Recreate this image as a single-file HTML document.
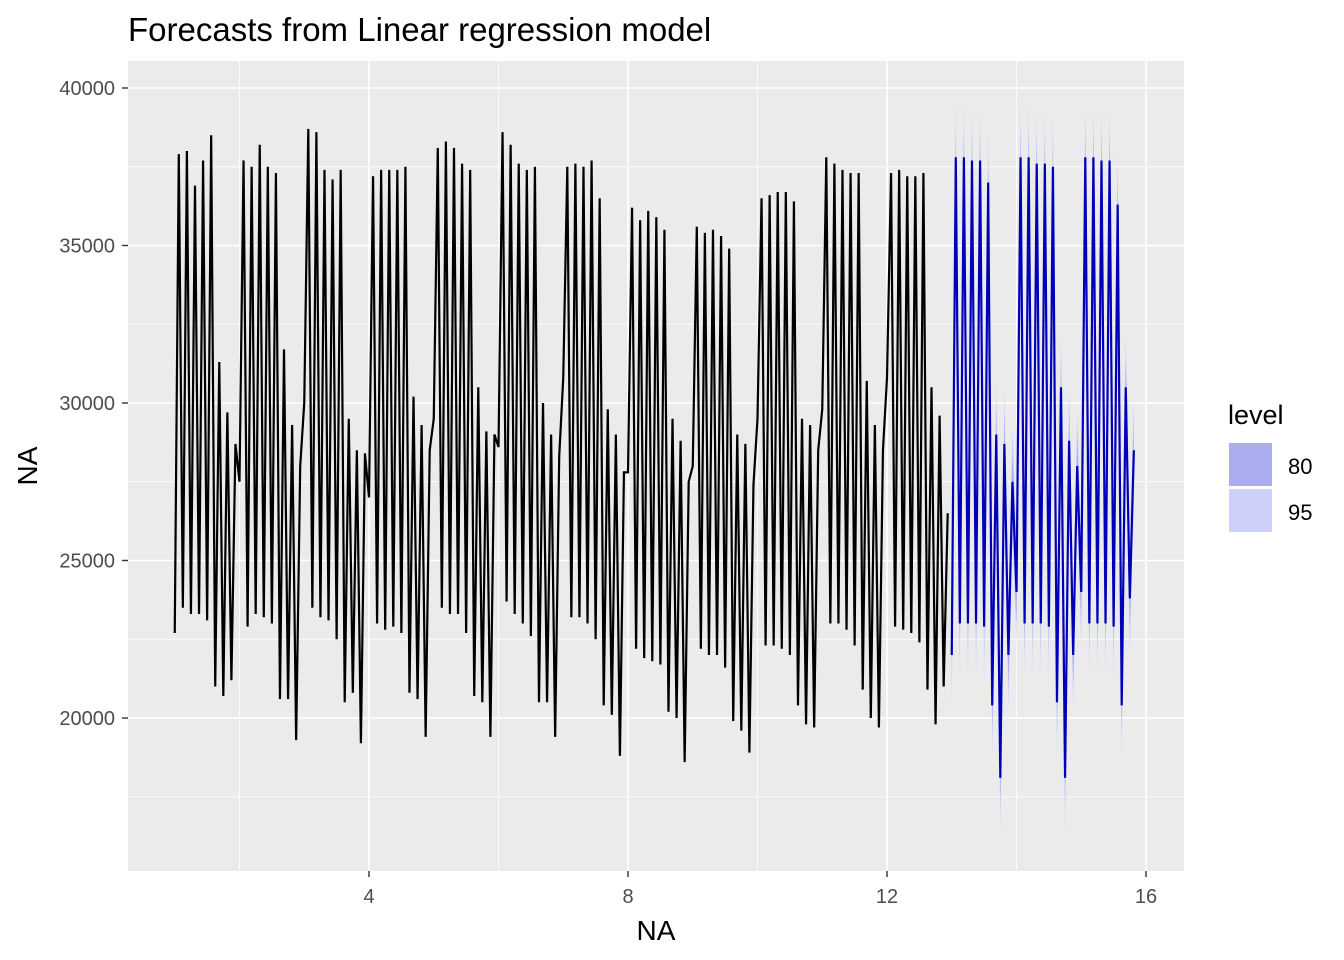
<!DOCTYPE html>
<html><head><meta charset="utf-8"><style>
body{margin:0;background:#fff;}
svg{display:block;font-family:"Liberation Sans",Arial,sans-serif;}
</style></head><body>
<svg id="chart" width="1344" height="960">
<rect x="0" y="0" width="1344" height="960" fill="#fff"/>
<text x="128" y="41" font-size="33" fill="#000">Forecasts from Linear regression model</text>
<rect x="128" y="61" width="1056" height="810" fill="#ebebeb"/>
<g id="grid"></g>
<g id="bands"></g>
<g id="lines"></g>
<g id="axes"></g>
<text x="656" y="940" font-size="28" text-anchor="middle">NA</text>
<text transform="translate(37,466) rotate(-90)" font-size="28" text-anchor="middle">NA</text>
<g>
<text x="1228" y="424" font-size="27">level</text>
<rect x="1229" y="443" width="43" height="43" fill="#aaaeee"/>
<rect x="1229" y="489" width="43" height="43" fill="#ccd0fb"/>
<text x="1288" y="474" font-size="22">80</text>
<text x="1288" y="520" font-size="22">95</text>
</g>
</svg>
<script>
const xTicks=[4,8,12,16];
const xMinor=[2,6,10,14];
const yTicks=[20000,25000,30000,35000,40000];
const yMinor=[17500,22500,27500,32500,37500];
const histStart=1, step=0.0625;
const history=[
22700,37900,23500,38000,23300,36900,23300,37700,23100,38500,21000,31300,20700,29700,21200,28700,
27500,37700,22900,37500,23300,38200,23200,37500,23000,37300,20600,31700,20600,29300,19300,28000,
30000,38700,23500,38600,23200,37400,23100,37100,22500,37400,20500,29500,20800,28500,19200,28400,
27000,37200,23000,37400,22800,37400,22900,37400,22700,37500,20800,30200,20600,29300,19400,28500,
29500,38100,23500,38300,23300,38100,23300,37600,22700,37400,20700,30500,20500,29100,19400,29000,
28600,38600,23700,38200,23300,37600,23000,37400,22600,37500,20500,30000,20500,29000,19400,28300,
30800,37500,23200,37600,23200,37500,23000,37700,22500,36500,20400,29800,20100,29000,18800,27800,
27800,36200,22200,35800,21900,36100,21800,35900,21700,35500,20200,29500,20000,28800,18600,27500,
28000,35600,22200,35400,22000,35500,22000,35300,21600,34900,19900,29000,19600,28700,18900,27400,
29500,36500,22300,36600,22300,36700,22200,36700,22000,36400,20400,29500,19800,29300,19700,28500,
29800,37800,23000,37600,23000,37400,22800,37300,22300,37300,20900,30700,20000,29300,19700,28500,
30800,37300,22900,37400,22800,37200,22700,37200,22400,37300,20900,30500,19800,29600,21000,26500];
const forecast=[
22000,37800,23000,37800,23000,37700,23000,37700,22900,37000,20400,29000,18100,28700,22000,27500,
24000,37800,23000,37800,23000,37600,23000,37600,22900,37500,20500,30500,18100,28800,22000,28000,
24000,37800,23000,37800,23000,37700,23000,37700,22900,36300,20400,30500,23800,28500];
const halfWidth80=1000, halfWidth95=1700;

const NS="http://www.w3.org/2000/svg";
const X=v=>174.75+(v-1)*64.75;
const Y=v=>718-(v-20000)*0.0315;
function mk(tag,attrs,parent){const e=document.createElementNS(NS,tag);for(const k in attrs)e.setAttribute(k,attrs[k]);document.getElementById(parent).appendChild(e);return e;}
xMinor.forEach(v=>{const e=mk('line',{x1:X(v),x2:X(v),y1:61,y2:871,stroke:'#fff','stroke-width':0.8},'grid');

});
yMinor.forEach(v=>{const e=mk('line',{x1:128,x2:1184,y1:Y(v),y2:Y(v),stroke:'#fff','stroke-width':0.8},'grid');

});
xTicks.forEach(v=>{const e=mk('line',{x1:X(v),x2:X(v),y1:61,y2:871,stroke:'#fff','stroke-width':1.6},'grid');


const t=mk('line',{x1:X(v),x2:X(v),y1:871,y2:877,stroke:'#333','stroke-width':1.4},'axes');


const l=mk('text',{x:X(v),y:903,'font-size':20,'text-anchor':'middle',fill:'#4d4d4d'},'axes');l.textContent=v;

});
yTicks.forEach(v=>{const e=mk('line',{x1:128,x2:1184,y1:Y(v),y2:Y(v),stroke:'#fff','stroke-width':1.6},'grid');


const t=mk('line',{x1:122,x2:128,y1:Y(v),y2:Y(v),stroke:'#333','stroke-width':1.4},'axes');


const l=mk('text',{x:115,y:Y(v)+7,'font-size':20,'text-anchor':'end',fill:'#4d4d4d'},'axes');l.textContent=v;

});
const fStart=histStart+history.length*step;
const fx=i=>X(fStart+i*step);
function band(h,col,name){let up=forecast.map((v,i)=>fx(i)+','+Y(v+h)),dn=forecast.map((v,i)=>fx(i)+','+Y(v-h)).reverse();
const p=mk('polygon',{points:up.concat(dn).join(' '),fill:col,stroke:'none'},'bands');

}
band(halfWidth95,'#ccd0fb','interval-95');
band(halfWidth80,'#aaaeee','interval-80');
const hp=mk('polyline',{points:history.map((v,i)=>X(histStart+i*step)+','+Y(v)).join(' '),fill:'none',stroke:'#000','stroke-width':2.2},'lines');


const fp=mk('polyline',{points:forecast.map((v,i)=>fx(i)+','+Y(v)).join(' '),fill:'none',stroke:'#0000b8','stroke-width':2.2},'lines');


</script>
</body></html>
